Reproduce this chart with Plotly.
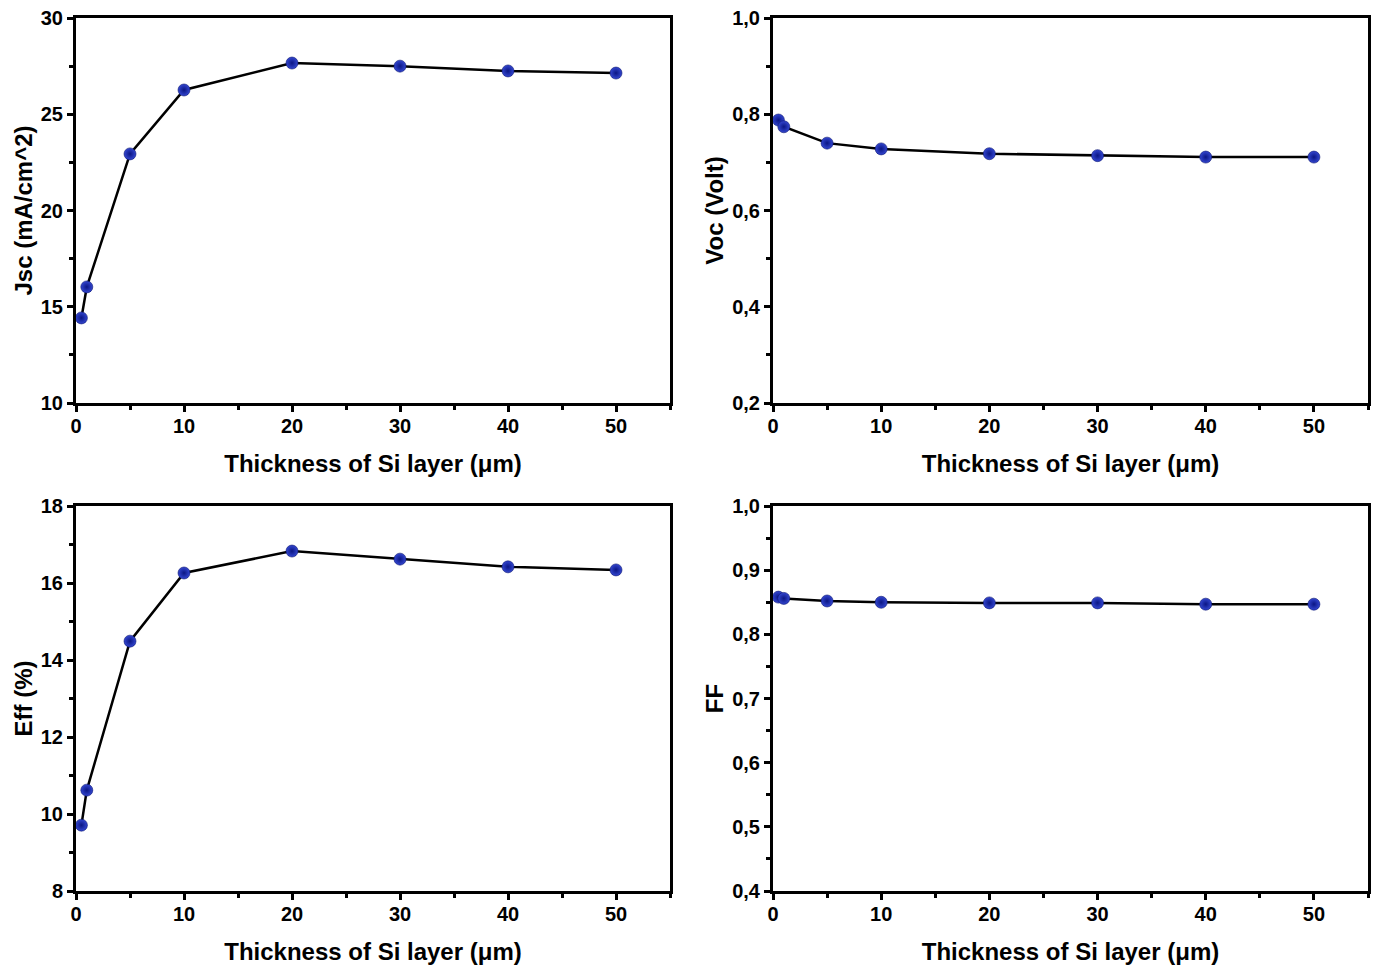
import plotly.graph_objects as go

thickness = [0.5, 1, 5, 10, 20, 30, 40, 50]
jsc = [14.42, 16.03, 22.94, 26.26, 27.66, 27.50, 27.25, 27.14]
voc = [0.788, 0.774, 0.740, 0.728, 0.718, 0.714, 0.711, 0.711]
eff = [9.71, 10.62, 14.49, 16.26, 16.83, 16.62, 16.42, 16.34]
ff = [0.858, 0.856, 0.852, 0.850, 0.849, 0.849, 0.847, 0.847]

x_title = "Thickness of Si layer (\u03bcm)"
panels = [
    # (y data, y title, y range, y major dtick, y minor dtick, tickformat)
    (jsc, "Jsc (mA/cm^2)", [10, 30], 5, 2.5, "d"),
    (voc, "Voc (Volt)", [0.2, 1.0], 0.2, 0.1, ".1f"),
    (eff, "Eff (%)", [8, 18], 2, 1, "d"),
    (ff, "FF", [0.4, 1.0], 0.1, 0.05, ".1f"),
]

W, H = 1380, 971
ML, MR, MT, MB = 76, 12, 18, 80
IW, IH = W - ML - MR, H - MT - MB
xdom = [[0, (670 - ML) / IW], [(773 - ML) / IW, 1]]
ydom = [[(H - MB - 403) / IH, 1], [0, (H - MB - 506) / IH]]

FONT = "Liberation Sans, Arial, sans-serif"
fig = go.Figure()
layout = dict(
    width=W, height=H, margin=dict(l=ML, r=MR, t=MT, b=MB),
    paper_bgcolor="white", plot_bgcolor="white", showlegend=False,
    separators=",.",
    font=dict(family=FONT, size=20, color="black", weight="bold"),
)

for i, (yd, ytitle, yr, ydt, ymdt, fmt) in enumerate(panels):
    n = i + 1
    xa = "x" if n == 1 else f"x{n}"
    ya = "y" if n == 1 else f"y{n}"
    fig.add_trace(go.Scatter(
        x=thickness, y=yd, xaxis=xa, yaxis=ya, mode="lines+markers",
        line=dict(color="black", width=2.5),
        marker=dict(size=12, color="#3346d0",
                    gradient=dict(type="radial", color="#0b1684"),
                    line=dict(color="#0a1470", width=0.6)),
        cliponaxis=False,
    ))
    col = i % 2
    row = i // 2
    axis_common = dict(
        showline=True, linecolor="black", linewidth=3, mirror=True,
        ticks="outside", ticklen=6, tickwidth=2.5, tickcolor="black",
        showgrid=False, zeroline=False, automargin=False,
        tickfont=dict(family=FONT, size=20, color="black", weight="bold"),
    )
    xkey = "xaxis" if n == 1 else f"xaxis{n}"
    ykey = "yaxis" if n == 1 else f"yaxis{n}"
    layout[xkey] = dict(
        axis_common, domain=xdom[col], anchor=ya, range=[0, 55],
        tick0=0, dtick=10, ticklabelstandoff=-3,
        minor=dict(ticks="outside", ticklen=4, tickwidth=2.5, tickcolor="black", dtick=5, tick0=0),
        title=dict(text=x_title, font=dict(family=FONT, size=24, color="black", weight="bold"), standoff=20),
    )
    layout[ykey] = dict(
        axis_common, domain=ydom[row], anchor=xa, range=yr,
        tick0=yr[0], dtick=ydt, tickformat=fmt,
        minor=dict(ticks="outside", ticklen=4, tickwidth=2.5, tickcolor="black", dtick=ymdt, tick0=yr[0]),
        title=dict(text=ytitle, font=dict(family=FONT, size=24, color="black", weight="bold"), standoff=2),
    )

fig.update_layout(**layout)
fig.write_html("out.html")
